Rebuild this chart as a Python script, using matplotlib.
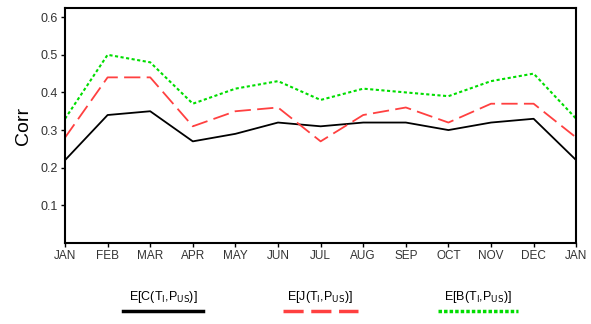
import matplotlib.pyplot as plt
from matplotlib.lines import Line2D

plt.rcParams['font.family'] = ['Liberation Sans', 'DejaVu Sans']

months = ['JAN', 'FEB', 'MAR', 'APR', 'MAY', 'JUN', 'JUL', 'AUG', 'SEP', 'OCT', 'NOV', 'DEC', 'JAN']
corr_c = [0.22, 0.34, 0.35, 0.27, 0.29, 0.32, 0.31, 0.32, 0.32, 0.30, 0.32, 0.33, 0.22]
corr_j = [0.28, 0.44, 0.44, 0.31, 0.35, 0.36, 0.27, 0.34, 0.36, 0.32, 0.37, 0.37, 0.28]
corr_b = [0.33, 0.50, 0.48, 0.37, 0.41, 0.43, 0.38, 0.41, 0.40, 0.39, 0.43, 0.45, 0.33]
yticks = [0.1, 0.2, 0.3, 0.4, 0.5, 0.6]
labels = [r'E[C(T$_{\rm I}$,P$_{\rm US}$)]', r'E[J(T$_{\rm I}$,P$_{\rm US}$)]', r'E[B(T$_{\rm I}$,P$_{\rm US}$)]']

fig = plt.figure(figsize=(5.91, 3.24), dpi=100)
ax = fig.add_axes([0.110, 0.25, 0.865, 0.725])

x = list(range(len(months)))
ax.plot(x, corr_c, color='black', lw=1.3)
ax.plot(x, corr_j, color='#ff4040', lw=1.3, dashes=(9, 3.5))
ax.plot(x, corr_b, color='#00dd00', lw=1.5, dashes=(1.5, 1.2))

ax.set_xlim(0, len(months) - 1)
ax.set_ylim(0, 0.624)
ax.set_xticks(x)
ax.set_xticklabels(months, fontsize=8.5, color='#333333')
ax.set_yticks(yticks)
ax.set_yticklabels([str(v) for v in yticks], fontsize=9, color='#333333')
ax.tick_params(axis='both', direction='out', length=3, width=1, pad=2)
ax.set_ylabel('Corr', fontsize=14, labelpad=6)
for s in ax.spines.values():
    s.set_linewidth(1.5)

# legend: label above a line sample
styles = [dict(color='black', lw=2.5),
          dict(color='#ff4040', lw=2.5, dashes=(5.8, 2.2)),
          dict(color='#00dd00', lw=2.5, dashes=(1, 0.6))]
centers = [163, 320, 478]
halfw = [40, 37.5, 40]
for lab, st, cx, hw in zip(labels, styles, centers, halfw):
    fx = cx / 591
    fig.text(fx, 1 - 297 / 324, lab, ha='center', va='center', fontsize=9)
    fig.add_artist(Line2D([fx - hw / 591, fx + hw / 591], [1 - 311 / 324] * 2,
                          transform=fig.transFigure, **st))

fig.savefig('out.png', dpi=100)
